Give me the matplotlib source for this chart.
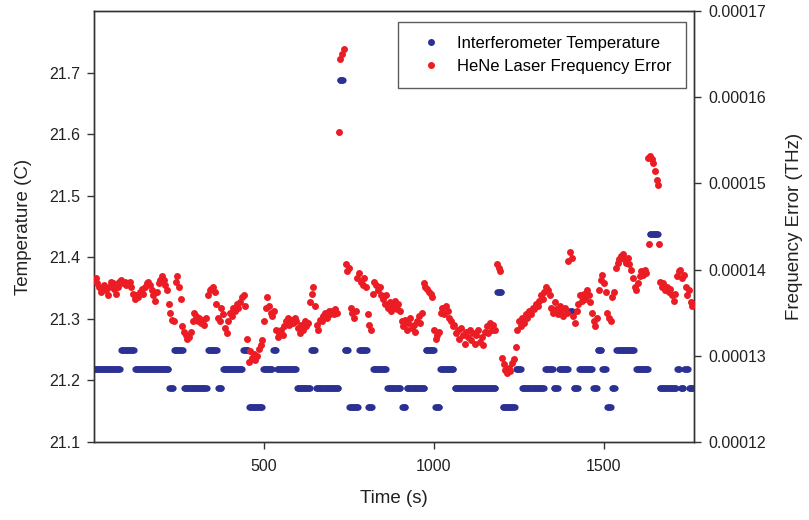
import numpy as np
import matplotlib
matplotlib.use('Agg')
import matplotlib.pyplot as plt
from matplotlib.lines import Line2D
from matplotlib.ticker import FormatStrFormatter

plt.rcParams['font.family'] = ['Liberation Sans', 'DejaVu Sans']

BLUE = '#2b3192'
RED = '#ec1c24'

# interferometer temperature: runs of constant reading (sensor steps of 1/32 C)
run_start = [0, 79, 121, 222, 235, 265, 335, 365, 379, 439, 456, 498, 527, 538,
             597, 638, 653, 723, 737, 751, 780, 806, 821, 863, 906, 920, 976,
             1004, 1019, 1061, 1186, 1202, 1241, 1259, 1327, 1352, 1368, 1399,
             1411, 1427, 1469, 1482, 1495, 1510, 1524, 1537, 1594, 1635, 1664,
             1716, 1726, 1737, 1750]
run_end = [76, 118, 219, 232, 262, 332, 362, 376, 436, 453, 495, 524, 535, 594,
           635, 650, 719, 734, 748, 777, 803, 818, 860, 902, 917, 972, 1000,
           1016, 1057, 1182, 1199, 1238, 1256, 1324, 1349, 1365, 1395, 1408,
           1424, 1466, 1479, 1492, 1505, 1521, 1533, 1590, 1631, 1660, 1712,
           1723, 1734, 1747, 1762]
run_temp = [21.21875, 21.25, 21.21875, 21.1875, 21.25, 21.1875, 21.25, 21.1875,
            21.21875, 21.25, 21.15625, 21.21875, 21.25, 21.21875, 21.1875, 21.25,
            21.1875, 21.6875, 21.25, 21.15625, 21.25, 21.15625, 21.21875, 21.1875,
            21.15625, 21.1875, 21.25, 21.15625, 21.21875, 21.1875, 21.34375,
            21.15625, 21.21875, 21.1875, 21.21875, 21.1875, 21.21875, 21.3125,
            21.1875, 21.21875, 21.1875, 21.25, 21.21875, 21.15625, 21.1875, 21.25,
            21.21875, 21.4375, 21.1875, 21.21875, 21.1875, 21.21875, 21.1875]

# HeNe laser frequency error, one reading every 5 s, in units of 1e-5 THz
freq_t = np.arange(0, 1765, 5)
freq_err = [
    13.88, 13.90, 13.84, 13.80, 13.74, 13.78, 13.82, 13.76, 13.70, 13.80, 13.86, 13.84, 13.78, 13.72, 13.80, 13.86, 13.88, 13.84, 13.86, 13.82,
    13.84, 13.86, 13.80, 13.72, 13.66, 13.70, 13.68, 13.74, 13.78, 13.72, 13.80, 13.84, 13.86, 13.82, 13.76, 13.70, 13.64, 13.74, 13.84, 13.88,
    13.92, 13.88, 13.82, 13.76, 13.60, 13.50, 13.42, 13.40, 13.86, 13.92, 13.80, 13.66, 13.34, 13.28, 13.24, 13.20, 13.22, 13.28, 13.40, 13.50,
    13.46, 13.40, 13.44, 13.38, 13.42, 13.36, 13.44, 13.70, 13.76, 13.78, 13.80, 13.74, 13.60, 13.44, 13.40, 13.55, 13.48, 13.32, 13.27, 13.40,
    13.50, 13.46, 13.56, 13.52, 13.60, 13.55, 13.62, 13.68, 13.70, 13.58, 13.20, 12.93, 13.05, 12.98, 13.02, 12.95, 13.00, 13.08, 13.12, 13.18,
    13.40, 13.55, 13.68, 13.58, 13.50, 13.46, 13.52, 13.30, 13.22, 13.26, 13.30, 13.24, 13.34, 13.40, 13.44, 13.36, 13.42, 13.38, 13.44, 13.40,
    13.32, 13.26, 13.36, 13.30, 13.40, 13.34, 13.38, 13.62, 13.72, 13.80, 13.58, 13.36, 13.30, 13.42, 13.40, 13.46, 13.50, 13.44, 13.52, 13.48,
    13.52, 13.48, 13.54, 13.50, 15.60, 16.44, 16.50, 16.56, 14.06, 13.98, 14.02, 13.56, 13.50, 13.44, 13.52, 13.90, 13.96, 13.86, 13.82, 13.90,
    13.80, 13.48, 13.36, 13.30, 13.72, 13.86, 13.82, 13.76, 13.80, 13.70, 13.66, 13.60, 13.70, 13.56, 13.62, 13.52, 13.58, 13.64, 13.54, 13.60,
    13.52, 13.40, 13.34, 13.42, 13.30, 13.38, 13.44, 13.32, 13.36, 13.28, 13.40, 13.46, 13.38, 13.50, 13.84, 13.80, 13.78, 13.74, 13.72, 13.68,
    13.30, 13.20, 13.24, 13.28, 13.50, 13.56, 13.48, 13.58, 13.52, 13.44, 13.40, 13.34, 13.36, 13.26, 13.30, 13.20, 13.32, 13.24, 13.14, 13.28,
    13.22, 13.30, 13.18, 13.26, 13.14, 13.24, 13.30, 13.16, 13.22, 13.12, 13.28, 13.34, 13.26, 13.38, 13.30, 13.36, 13.30, 14.06, 14.02, 13.98,
    12.98, 12.90, 12.84, 12.80, 12.86, 12.82, 12.92, 12.96, 13.10, 13.30, 13.40, 13.34, 13.44, 13.38, 13.48, 13.44, 13.52, 13.48, 13.56, 13.54,
    13.60, 13.58, 13.64, 13.70, 13.66, 13.74, 13.80, 13.76, 13.70, 13.56, 13.50, 13.62, 13.54, 13.48, 13.58, 13.52, 13.46, 13.56, 13.50, 14.10,
    14.20, 14.14, 13.46, 13.38, 13.52, 13.60, 13.70, 13.64, 13.72, 13.66, 13.76, 13.70, 13.62, 13.50, 13.40, 13.34, 13.44, 13.76, 13.88, 13.94,
    13.84, 13.74, 13.50, 13.44, 13.40, 13.68, 13.74, 14.02, 14.08, 14.12, 14.16, 14.18, 14.12, 14.08, 14.14, 14.06, 14.00, 13.90, 13.80, 13.76,
    13.84, 13.92, 13.98, 13.94, 14.00, 13.96, 15.30, 15.32, 15.28, 15.24, 15.14, 15.04, 14.98, 13.86, 13.80, 13.84, 13.76, 13.80, 13.74, 13.78,
    13.70, 13.64, 13.72, 13.92, 13.98, 14.00, 13.90, 13.94, 13.80, 13.70, 13.76, 13.62, 13.58,
]
# two stray readings during the second excursion
extra_t = [1633, 1662]
extra_err = [14.30, 14.30]

# expand each temperature run into samples every 2 s
temp_t, temp_v = [], []
for s, e, v in zip(run_start, run_end, run_temp):
    ts = np.arange(s, e + 1, 2)
    temp_t.append(ts)
    temp_v.append(np.full(len(ts), v))
temp_t = np.concatenate(temp_t)
temp_v = np.concatenate(temp_v)

f_t = np.concatenate([freq_t, extra_t])
f_v = np.concatenate([freq_err, extra_err]) * 1e-5

fig = plt.figure(figsize=(8.09, 5.2), dpi=100)
ax = fig.add_axes([94/809, 1 - 442/520, 600/809, 431/520])
ax2 = ax.twinx()

ax.scatter(temp_t, temp_v, s=20, color=BLUE, lw=0, zorder=3)
ax2.scatter(f_t, f_v, s=25, color=RED, lw=0, zorder=3)

ax.set_xlim(0, 1765)
ax.set_ylim(21.1, 21.8)
ax2.set_ylim(0.00012, 0.00017)

ax.set_xticks([500, 1000, 1500])
ax.set_yticks([21.1, 21.2, 21.3, 21.4, 21.5, 21.6, 21.7])
ax.yaxis.set_major_formatter(FormatStrFormatter('%.1f'))
ax2.set_yticks([0.00012, 0.00013, 0.00014, 0.00015, 0.00016, 0.00017])
ax2.yaxis.set_major_formatter(FormatStrFormatter('%.5f'))

for a in (ax, ax2):
    for sp in a.spines.values():
        sp.set_color('#333333')
        sp.set_linewidth(1.0)
    a.tick_params(direction='out', length=5, width=1, color='#333333',
                  labelsize=11.5, labelcolor='#222222')
ax.tick_params(axis='y', pad=5)
ax.tick_params(axis='x', pad=7)
ax2.tick_params(axis='y', pad=5.5)

ax.set_xlabel('Time (s)', fontsize=13.5, labelpad=12, color='#222222')
ax.set_ylabel('Temperature (C)', fontsize=13.5, labelpad=12, color='#222222')
ax2.set_ylabel('Frequency Error (THz)', fontsize=13.5, labelpad=14, color='#222222')

handles = [
    Line2D([], [], marker='o', ls='', color=BLUE, markersize=4),
    Line2D([], [], marker='o', ls='', color=RED, markersize=4),
]
leg = ax2.legend(handles, ['Interferometer Temperature', 'HeNe Laser Frequency Error'],
                 loc='upper left', bbox_to_anchor=(398/809, 1 - 22/520),
                 bbox_transform=fig.transFigure, fontsize=12, frameon=True,
                 fancybox=False, borderpad=0.85, labelspacing=0.45,
                 handlelength=2.25, handletextpad=0.45, borderaxespad=0)
leg.get_frame().set_edgecolor('#333333')
leg.get_frame().set_linewidth(1.0)

fig.savefig('out.png', dpi=100)
